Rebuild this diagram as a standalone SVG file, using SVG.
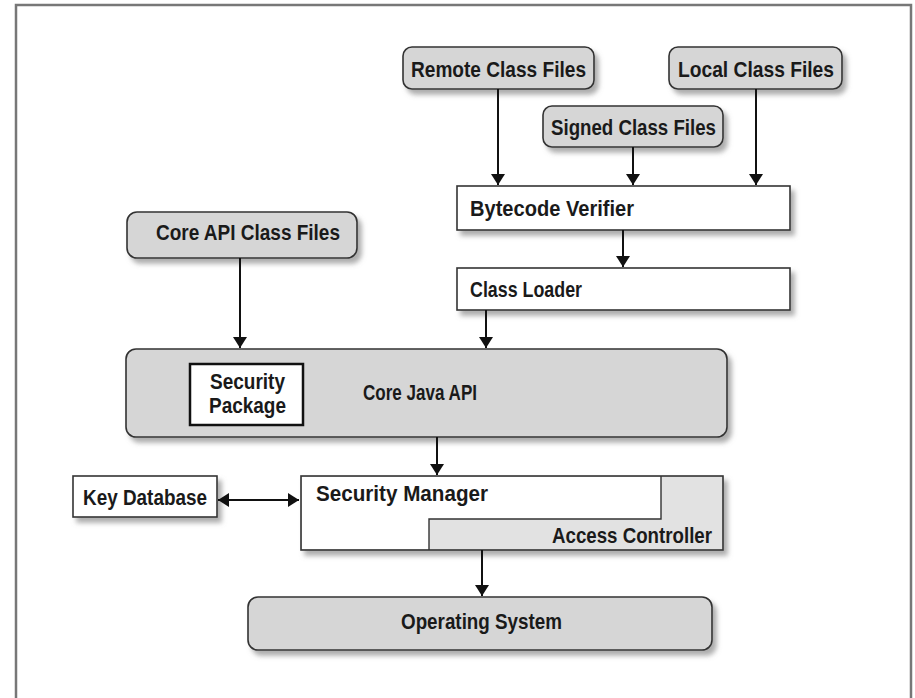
<svg xmlns="http://www.w3.org/2000/svg" width="915" height="698" viewBox="0 0 915 698">
<style>
text{font-family:"Liberation Sans",Arial,sans-serif;font-weight:bold;font-size:22px;fill:#1a1a1a}
.g{fill:#d6d6d6;stroke:#333;stroke-width:1.6}
.w{fill:#fff;stroke:#333;stroke-width:1.6}
.c{fill:none;stroke:#111;stroke-width:2}
</style>
<defs>
<filter id="sh" x="-10%" y="-20%" width="130%" height="160%">
<feDropShadow dx="4" dy="5" stdDeviation="2.5" flood-color="#777" flood-opacity="0.6"/>
</filter>
<marker id="ah" viewBox="0 0 11 14" refX="11" refY="7" markerWidth="11" markerHeight="14" markerUnits="userSpaceOnUse" orient="auto-start-reverse">
<path d="M0,0 L11,7 L0,14 Z" fill="#111"/>
</marker>
</defs>
<rect x="16" y="5" width="895" height="700" fill="#fff" stroke="#777" stroke-width="2.5"/>
<g id="remote"><rect class="g" x="403" y="47" width="191" height="42" rx="9" filter="url(#sh)"/><text x="411" y="77" textLength="175" lengthAdjust="spacingAndGlyphs">Remote Class Files</text></g>
<g id="local"><rect class="g" x="669" y="47" width="173" height="42" rx="9" filter="url(#sh)"/><text x="678" y="77" textLength="156" lengthAdjust="spacingAndGlyphs">Local Class Files</text></g>
<g id="signed"><rect class="g" x="543" y="106" width="180" height="41" rx="9" filter="url(#sh)"/><text x="551" y="135" textLength="165" lengthAdjust="spacingAndGlyphs">Signed Class Files</text></g>
<g id="bytecode"><rect class="w" x="457" y="186" width="333" height="44" filter="url(#sh)"/><text x="470" y="216" textLength="164" lengthAdjust="spacingAndGlyphs">Bytecode Verifier</text></g>
<g id="loader"><rect class="w" x="457" y="268" width="333" height="42" filter="url(#sh)"/><text x="470" y="297" textLength="112" lengthAdjust="spacingAndGlyphs">Class Loader</text></g>
<g id="coreapi"><rect class="g" x="127" y="212" width="230" height="46" rx="10" filter="url(#sh)"/><text x="156" y="240" textLength="184" lengthAdjust="spacingAndGlyphs">Core API Class Files</text></g>
<g id="corejava"><rect class="g" x="126" y="349" width="601" height="88" rx="10" filter="url(#sh)"/><text x="363" y="400" textLength="114" lengthAdjust="spacingAndGlyphs">Core Java API</text>
<g id="secpkg"><rect x="190" y="364" width="113" height="61" fill="#fff" stroke="#111" stroke-width="2.5"/><text x="210" y="389" textLength="75" lengthAdjust="spacingAndGlyphs">Security</text><text x="209" y="413" textLength="77" lengthAdjust="spacingAndGlyphs">Package</text></g></g>
<g id="keydb"><rect class="w" x="73" y="476" width="144" height="41" filter="url(#sh)"/><text x="83" y="505" textLength="124" lengthAdjust="spacingAndGlyphs">Key Database</text></g>
<g id="secmgr"><rect x="301" y="476" width="422" height="74" fill="#e2e2e2" stroke="#333" stroke-width="1.6" filter="url(#sh)"/>
<path d="M302,477 H661 V519 H429 V549 H302 Z" fill="#fff" stroke="none"/>
<path d="M661,476 V519 H429 V550" fill="none" stroke="#333" stroke-width="1.4"/>
<text x="316" y="501" textLength="172" lengthAdjust="spacingAndGlyphs">Security Manager</text></g>
<g id="access"><text x="552" y="543" textLength="160" lengthAdjust="spacingAndGlyphs">Access Controller</text></g>
<g id="os"><rect class="g" x="248" y="597" width="464" height="53" rx="10" filter="url(#sh)"/><text x="401" y="629" textLength="161" lengthAdjust="spacingAndGlyphs">Operating System</text></g>
<g id="connectors">
<path class="c" d="M498,89 V185" marker-end="url(#ah)"/>
<path class="c" d="M633,147 V185" marker-end="url(#ah)"/>
<path class="c" d="M756,89 V185" marker-end="url(#ah)"/>
<path class="c" d="M623,230 V267" marker-end="url(#ah)"/>
<path class="c" d="M240,258 V348" marker-end="url(#ah)"/>
<path class="c" d="M486,310 V348" marker-end="url(#ah)"/>
<path class="c" d="M437,437 V475" marker-end="url(#ah)"/>
<path class="c" d="M218,500 H299" marker-start="url(#ah)" marker-end="url(#ah)"/>
<path class="c" d="M482,550 V596" marker-end="url(#ah)"/>
</g>
</svg>
